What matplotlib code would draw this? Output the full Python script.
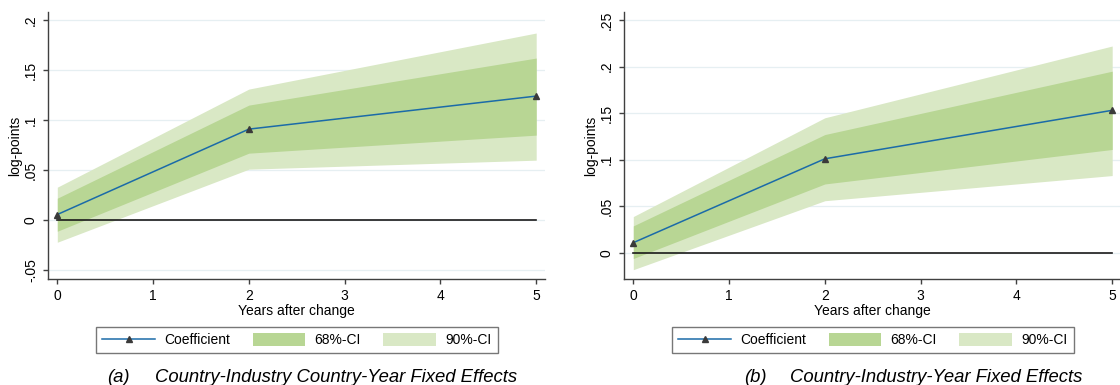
import matplotlib
matplotlib.use("Agg")
import matplotlib.pyplot as plt
from matplotlib.lines import Line2D
from matplotlib.patches import Patch
from matplotlib.ticker import FuncFormatter

plt.rcParams["font.family"] = ["Liberation Sans", "DejaVu Sans"]

years = [0, 2, 5]

# (a) country-industry and country-year fixed effects
coef_a = [0.0057, 0.091, 0.124]
ci68_lo_a = [-0.011, 0.067, 0.085]
ci68_hi_a = [0.022, 0.115, 0.162]
ci90_lo_a = [-0.022, 0.051, 0.060]
ci90_hi_a = [0.033, 0.131, 0.187]
yticks_a = [-0.05, 0, 0.05, 0.1, 0.15, 0.2]

# (b) country-industry-year fixed effects
coef_b = [0.011, 0.101, 0.153]
ci68_lo_b = [-0.006, 0.074, 0.111]
ci68_hi_b = [0.029, 0.127, 0.195]
ci90_lo_b = [-0.018, 0.056, 0.083]
ci90_hi_b = [0.039, 0.145, 0.222]
yticks_b = [0, 0.05, 0.1, 0.15, 0.2, 0.25]

legend_labels = ["Coefficient", "68%-CI", "90%-CI"]
xlabel = "Years after change"
ylabel = "log-points"

LINE = "#1b6ba8"
DARK = "#b8d694"
LIGHT = "#d9e8c5"
AXIS = "#404040"


def stata_fmt(v, pos):
    if abs(v) < 1e-9:
        return "0"
    s = ("%.2f" % v).rstrip("0")
    return s.replace("0.", ".")


def plot(ax, coef, lo68, hi68, lo90, hi90, yticks, ylim):
    ax.fill_between(years, lo90, hi90, color=LIGHT, lw=0, zorder=1)
    ax.fill_between(years, lo68, hi68, color=DARK, lw=0, zorder=2)
    ax.plot([years[0], years[-1]], [0, 0], color="#1a1a1a", lw=1.2, zorder=3)
    ax.plot(years, coef, color=LINE, lw=1.1, marker="^", ms=4,
            mfc="#3a3a3a", mec="#3a3a3a", zorder=4)

    ax.set_xlim(-0.094, 5.095)
    ax.set_ylim(*ylim)
    ax.set_xticks(range(6))
    ax.set_yticks(yticks)
    ax.yaxis.set_major_formatter(FuncFormatter(stata_fmt))
    ax.grid(axis="y", color="#e6eff2", lw=0.9, zorder=0)
    ax.set_axisbelow(True)

    for side in ("top", "right"):
        ax.spines[side].set_visible(False)
    for side in ("left", "bottom"):
        ax.spines[side].set_color(AXIS)
        ax.spines[side].set_linewidth(1.0)
    ax.tick_params(axis="both", colors=AXIS, labelcolor="black",
                   labelsize=10, length=3.5, width=1.0)
    ax.tick_params(axis="x", pad=3.5)
    ax.tick_params(axis="y", pad=4)
    for lab in ax.get_yticklabels():
        lab.set_rotation(90)
        lab.set_va("center")

    ax.set_xlabel(xlabel, fontsize=10, labelpad=0.5)
    ax.set_ylabel(ylabel, fontsize=10, labelpad=1)

    handles = [
        Line2D([], [], color=LINE, lw=1.1, marker="^", ms=4,
               mfc="#3a3a3a", mec="#3a3a3a"),
        Patch(facecolor=DARK, edgecolor="none"),
        Patch(facecolor=LIGHT, edgecolor="none"),
    ]
    pos = ax.get_position()
    leg = ax.figure.legend(
        handles, legend_labels, loc="center",
        bbox_to_anchor=((pos.x0 + pos.x1) / 2, 1 - 340 / 385),
        ncol=3, fontsize=10, numpoints=1, frameon=True, fancybox=False,
        handlelength=3.8, handleheight=1.05, handletextpad=0.65,
        columnspacing=1.63, borderpad=0.45,
    )
    leg.get_frame().set_edgecolor("#555555")
    leg.get_frame().set_linewidth(1.0)


W, H = 1120, 385
fig = plt.figure(figsize=(W / 100, H / 100), dpi=100)
ax_a = fig.add_axes([48.3 / W, 1 - 279.3 / H, 497 / W, 267.3 / H])
ax_b = fig.add_axes([624.3 / W, 1 - 279.3 / H, 497 / W, 267.3 / H])

plot(ax_a, coef_a, ci68_lo_a, ci68_hi_a, ci90_lo_a, ci90_hi_a,
     yticks_a, (-0.059, 0.208))
plot(ax_b, coef_b, ci68_lo_b, ci68_hi_b, ci90_lo_b, ci90_hi_b,
     yticks_b, (-0.0283, 0.2585))

cap = dict(style="italic", fontsize=13.3, va="baseline")
fig.text(106.7 / W, 1 - 381.7 / H, "(a)", **cap)
fig.text(155 / W, 1 - 381.7 / H, "Country-Industry Country-Year Fixed Effects", **cap)
fig.text(744 / W, 1 - 381.7 / H, "(b)", **cap)
fig.text(790 / W, 1 - 381.7 / H, "Country-Industry-Year Fixed Effects", **cap)

fig.savefig("out.png", dpi=100)
